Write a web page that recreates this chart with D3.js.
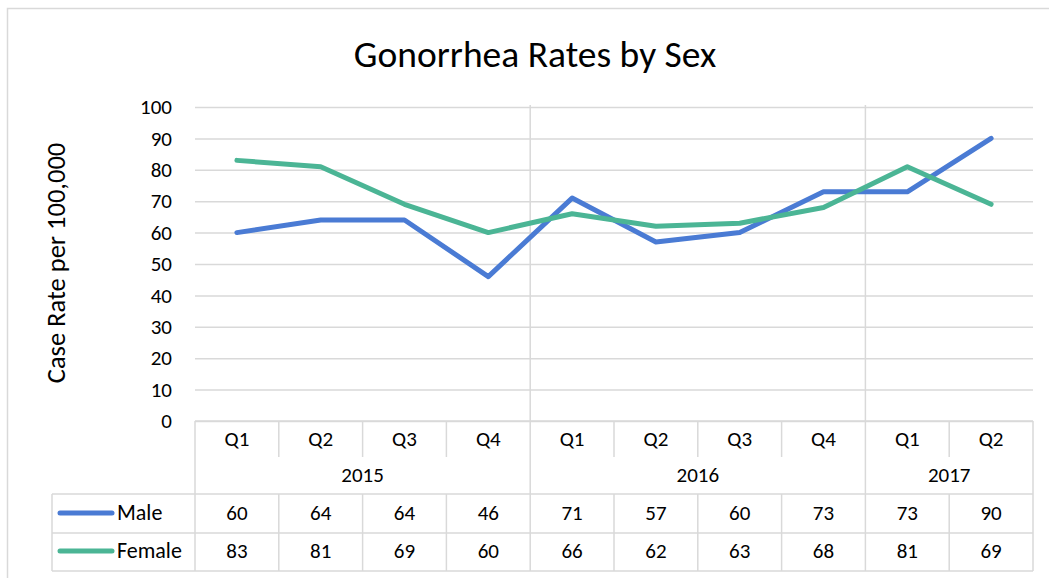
<!DOCTYPE html>
<html>
    <head>
        <title>Gonorrhea Rates by Sex</title>
        <script src="https://d3js.org/d3.v7.min.js"></script>
        <style>
            body { margin: 0; background: #fff; }
            svg text { font-family: Carlito, Lato, "Open Sans", sans-serif; fill: #000; }
        </style>
    </head>
    <body>
        <svg id="myCanvas" width="1049" height="578"></svg>
        <script>
            // chart data
            var quarters = ["Q1", "Q2", "Q3", "Q4", "Q1", "Q2", "Q3", "Q4", "Q1", "Q2"];
            var years = ["2015", "2016", "2017"];
            var yearSpans = [4, 4, 2];
            var male = [60, 64, 64, 46, 71, 57, 60, 73, 73, 90];
            var female = [83, 81, 69, 60, 66, 62, 63, 68, 81, 69];
            var yTicks = [0, 10, 20, 30, 40, 50, 60, 70, 80, 90, 100];

            var series = [
                {name: "Male", values: male, color: "#4a7bd4"},
                {name: "Female", values: female, color: "#4bb595"}
            ];

            var svg = d3.select("#myCanvas");
            var grid = "#d9d9d9";

            // outer chart border
            svg.append("rect")
                .attr("x", 7.5).attr("y", 8.5)
                .attr("width", 1060).attr("height", 600)
                .attr("fill", "none").attr("stroke", grid).attr("stroke-width", 1.5);

            var pLeft = 195, pRight = 1033, pTop = 107, pBottom = 421;

            var x = d3.scaleBand().domain(d3.range(quarters.length)).range([pLeft, pRight]).padding(0);
            var y = d3.scaleLinear().domain([0, 100]).range([pBottom, pTop]);

            // title
            svg.append("text")
                .attr("x", 535).attr("y", 67)
                .attr("text-anchor", "middle")
                .style("font-size", "37.5px")
                .text("Gonorrhea Rates by Sex");

            // y axis with gridlines
            var yAxis = svg.append("g")
                .attr("transform", "translate(" + pLeft + ",0)")
                .call(d3.axisLeft(y).tickValues(yTicks).tickSize(-(pRight - pLeft)).tickPadding(23));
            yAxis.select(".domain").remove();
            yAxis.selectAll(".tick line").attr("stroke", grid).attr("stroke-width", 1.5);
            yAxis.selectAll(".tick text").style("font-size", "21px").attr("fill", "#000");

            // y axis title
            svg.append("text")
                .attr("transform", "translate(65,263) rotate(-90)")
                .attr("text-anchor", "middle")
                .style("font-size", "26.5px")
                .text("Case Rate per 100,000");

            // year boundaries
            var bounds = [0];
            yearSpans.forEach(function (s, i) { bounds.push(bounds[i] + s); });
            var bx = function (i) { return i < quarters.length ? x(i) : pRight; };

            // vertical separators in plot area
            svg.selectAll(".ysep")
                .data(bounds.slice(1, -1))
                .join("line")
                .attr("x1", d => bx(d)).attr("x2", d => bx(d))
                .attr("y1", pTop - 2).attr("y2", pBottom)
                .attr("stroke", grid).attr("stroke-width", 1.5);

            // data table grid
            var rowQ = 457, rowY = 494, rowM = 533, rowF = 571, legLeft = 52;
            var tbl = svg.append("g").attr("stroke", grid).attr("stroke-width", 1.5);
            tbl.append("line").attr("x1", pLeft).attr("x2", pRight).attr("y1", pBottom).attr("y2", pBottom);
            tbl.append("line").attr("x1", legLeft).attr("x2", pRight).attr("y1", rowY).attr("y2", rowY);
            tbl.append("line").attr("x1", legLeft).attr("x2", pRight).attr("y1", rowM).attr("y2", rowM);
            tbl.append("line").attr("x1", legLeft).attr("x2", pRight).attr("y1", rowF).attr("y2", rowF);
            tbl.append("line").attr("x1", legLeft).attr("x2", legLeft).attr("y1", rowY).attr("y2", rowF);
            // quarter separators (short), year boundaries run through
            tbl.selectAll(".qs")
                .data(d3.range(quarters.length + 1))
                .join("line")
                .attr("x1", d => bx(d)).attr("x2", d => bx(d))
                .attr("y1", pBottom)
                .attr("y2", d => bounds.indexOf(d) >= 0 ? rowY : rowQ);
            // data row separators
            tbl.selectAll(".ds")
                .data(d3.range(quarters.length + 1))
                .join("line")
                .attr("x1", d => bx(d)).attr("x2", d => bx(d))
                .attr("y1", rowY).attr("y2", rowF);

            // quarter labels
            svg.selectAll(".qlab")
                .data(quarters)
                .join("text")
                .attr("x", (d, i) => x(i) + x.bandwidth() / 2)
                .attr("y", 446)
                .attr("text-anchor", "middle")
                .style("font-size", "21px")
                .text(d => d);

            // year labels
            svg.selectAll(".ylab")
                .data(years)
                .join("text")
                .attr("x", (d, i) => (bx(bounds[i]) + bx(bounds[i + 1])) / 2)
                .attr("y", 482)
                .attr("text-anchor", "middle")
                .style("font-size", "21px")
                .text(d => d);

            // value rows + legend keys
            var rowBase = [520, 558];
            series.forEach(function (s, r) {
                var by = rowBase[r];
                svg.append("line")
                    .attr("x1", 60).attr("x2", 112)
                    .attr("y1", by - 7).attr("y2", by - 7)
                    .attr("stroke", s.color).attr("stroke-width", 5)
                    .attr("stroke-linecap", "round");
                svg.append("text")
                    .attr("x", 117).attr("y", by)
                    .style("font-size", "22px")
                    .text(s.name);
                svg.selectAll(".v" + r)
                    .data(s.values)
                    .join("text")
                    .attr("x", (d, i) => x(i) + x.bandwidth() / 2)
                    .attr("y", by)
                    .attr("text-anchor", "middle")
                    .style("font-size", "21px")
                    .text(d => d);
            });

            // lines
            var line = d3.line()
                .x((d, i) => x(i) + x.bandwidth() / 2)
                .y(d => y(d));

            svg.selectAll(".series")
                .data(series)
                .join("path")
                .attr("d", d => line(d.values))
                .attr("fill", "none")
                .attr("stroke", d => d.color)
                .attr("stroke-width", 5)
                .attr("stroke-linecap", "round")
                .attr("stroke-linejoin", "round");
        </script>
    </body>
</html>
